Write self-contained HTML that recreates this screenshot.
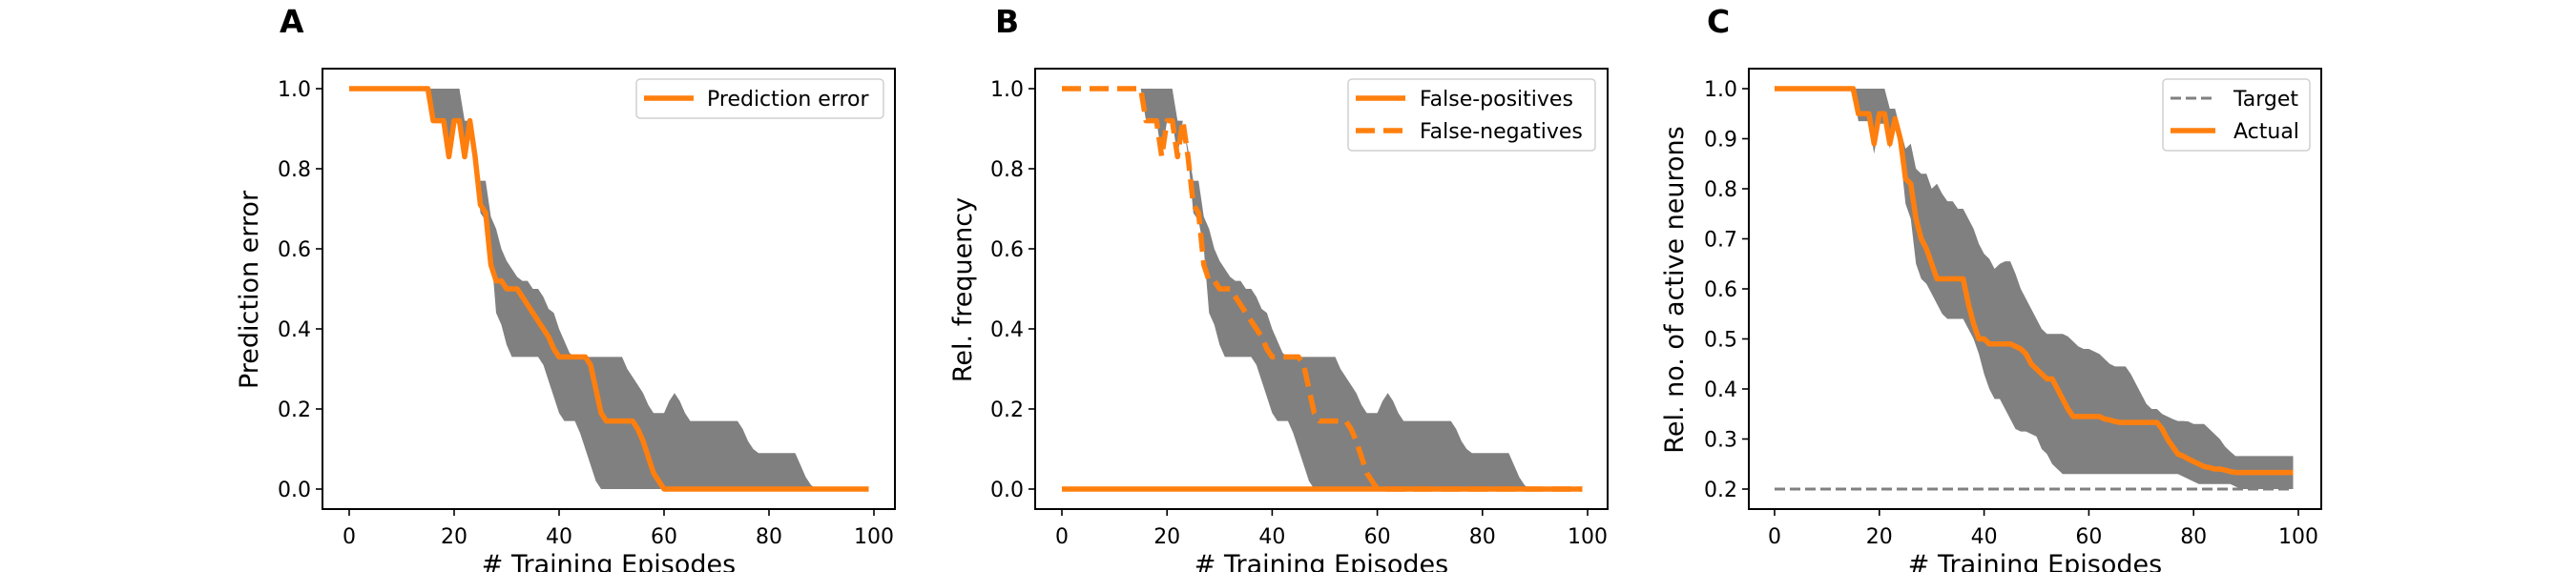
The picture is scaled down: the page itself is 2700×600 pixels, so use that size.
<!DOCTYPE html>
<html><head><meta charset="utf-8">
<style>
html,body{margin:0;padding:0;background:#fff;}
svg{display:block;}
text{font-family:"DejaVu Sans","Liberation Sans",sans-serif;fill:#000;}
</style></head>
<body>
<svg id="fig" width="2700" height="600" viewBox="0 0 2700 600" xmlns="http://www.w3.org/2000/svg"></svg>
<script>
const episodes = [0,1,2,3,4,5,6,7,8,9,10,11,12,13,14,15,16,17,18,19,20,21,22,23,24,25,26,27,28,29,30,31,32,33,34,35,36,37,38,39,40,41,42,43,44,45,46,47,48,49,50,51,52,53,54,55,56,57,58,59,60,61,62,63,64,65,66,67,68,69,70,71,72,73,74,75,76,77,78,79,80,81,82,83,84,85,86,87,88,89,90,91,92,93,94,95,96,97,98,99];
const errMean = [1,1,1,1,1,1,1,1,1,1,1,1,1,1,1,1,.92,.92,.92,.83,.92,.92,.83,.92,.83,.71,.69,.56,.52,.52,.5,.5,.5,.48,.46,.44,.42,.4,.38,.35,.33,.33,.33,.33,.33,.33,.31,.25,.19,.17,.17,.17,.17,.17,.17,.15,.12,.08,.04,.02,0,0,0,0,0,0,0,0,0,0,0,0,0,0,0,0,0,0,0,0,0,0,0,0,0,0,0,0,0,0,0,0,0,0,0,0,0,0,0,0];
const errUpper = [1,1,1,1,1,1,1,1,1,1,1,1,1,1,1,1,1,1,1,1,1,1,.92,.92,.85,.77,.77,.68,.65,.6,.57,.55,.53,.52,.52,.5,.5,.48,.45,.44,.4,.37,.34,.33,.33,.33,.33,.33,.33,.33,.33,.33,.33,.3,.28,.26,.24,.21,.19,.19,.19,.22,.24,.22,.19,.17,.17,.17,.17,.17,.17,.17,.17,.17,.17,.15,.12,.1,.09,.09,.09,.09,.09,.09,.09,.09,.06,.03,.01,0,0,0,0,0,0,0,0,0,0,0,0];
const errLower = [1,1,1,1,1,1,1,1,1,1,1,1,1,1,1,1,.92,.92,.92,.83,.92,.92,.83,.92,.83,.69,.67,.6,.44,.41,.36,.33,.33,.33,.33,.33,.33,.31,.27,.23,.19,.17,.17,.17,.14,.1,.06,.02,0,0,0,0,0,0,0,0,0,0,0,0,0,0,0,0,0,0,0,0,0,0,0,0,0,0,0,0,0,0,0,0,0,0,0,0,0,0,0,0,0,0,0,0,0,0,0,0,0,0,0,0];
const falsePos = [0,0,0,0,0,0,0,0,0,0,0,0,0,0,0,0,0,0,0,0,0,0,0,0,0,0,0,0,0,0,0,0,0,0,0,0,0,0,0,0,0,0,0,0,0,0,0,0,0,0,0,0,0,0,0,0,0,0,0,0,0,0,0,0,0,0,0,0,0,0,0,0,0,0,0,0,0,0,0,0,0,0,0,0,0,0,0,0,0,0,0,0,0,0,0,0,0,0,0,0];
const actMean = [1,1,1,1,1,1,1,1,1,1,1,1,1,1,1,1,.95,.95,.95,.89,.95,.95,.89,.94,.9,.82,.81,.74,.7,.68,.65,.62,.62,.62,.62,.62,.62,.57,.53,.5,.5,.49,.49,.49,.49,.49,.485,.48,.47,.45,.44,.43,.42,.42,.4,.38,.36,.345,.345,.345,.345,.345,.345,.34,.338,.335,.333,.333,.333,.333,.333,.333,.333,.333,.32,.3,.285,.27,.266,.26,.255,.25,.245,.243,.24,.24,.238,.235,.233,.233,.233,.233,.233,.233,.233,.233,.233,.233,.233,.233];
const actUpper = [1,1,1,1,1,1,1,1,1,1,1,1,1,1,1,1,1,1,1,1,1,1,.96,.96,.92,.88,.89,.84,.83,.83,.8,.81,.79,.775,.775,.76,.76,.74,.72,.69,.67,.66,.64,.65,.655,.655,.63,.6,.58,.56,.54,.52,.51,.51,.51,.51,.505,.495,.485,.48,.48,.475,.47,.46,.45,.445,.445,.445,.43,.41,.39,.37,.36,.36,.35,.345,.34,.336,.336,.335,.33,.33,.33,.32,.31,.3,.285,.275,.266,.266,.266,.266,.266,.266,.266,.266,.266,.266,.266,.266];
const actLower = [1,1,1,1,1,1,1,1,1,1,1,1,1,1,1,1,.935,.935,.935,.87,.93,.93,.88,.93,.87,.77,.74,.65,.62,.61,.59,.57,.55,.54,.54,.54,.54,.52,.5,.47,.43,.4,.38,.38,.36,.34,.32,.315,.315,.31,.305,.28,.27,.25,.24,.23,.23,.23,.23,.23,.23,.23,.23,.23,.23,.23,.23,.23,.23,.23,.23,.23,.23,.23,.23,.23,.23,.23,.225,.22,.215,.21,.21,.21,.21,.21,.21,.21,.205,.2,.2,.2,.2,.2,.2,.2,.2,.2,.2,.2];
const targetVal = 0.2;
const xTicks = [0,20,40,60,80,100];
const yTicksAB = [0,0.2,0.4,0.6,0.8,1.0];
const yTicksC = [0.2,0.3,0.4,0.5,0.6,0.7,0.8,0.9,1.0];

const NS = "http://www.w3.org/2000/svg";
const fig = document.getElementById('fig');
function mk(tag, attrs, parent){const e=document.createElementNS(NS,tag);for(const k in attrs)e.setAttribute(k,attrs[k]);(parent||fig).appendChild(e);return e;}
const ORANGE="#ff7f0e", GRAY="#808080";

function panel(cfg){
  const g = mk('g',{});
  
  
  const L=cfg.left,R=cfg.left+600,T=72,B=534;
  const xs=v=>cfg.x0+(v-0)*(cfg.x100-cfg.x0)/100;
  const ys=v=>93+(cfg.ytop-v)*cfg.ppu;
  // band
  let pts=[];
  for(let i=0;i<episodes.length;i++)pts.push(xs(episodes[i])+','+ys(cfg.upper[i]));
  for(let i=episodes.length-1;i>=0;i--)pts.push(xs(episodes[i])+','+ys(cfg.lower[i]));
  const band=mk('polygon',{points:pts.join(' '),fill:GRAY,stroke:'none'},g);
  
  
  // series
  cfg.series.forEach(s=>{
    const d=episodes.map((e,i)=>(i?'L':'M')+xs(e)+','+ys(s.vals[i])).join(' ');
    const p=mk('path',{d:d,fill:'none',stroke:s.color,'stroke-width':s.w,'stroke-linejoin':'round'},g);
    if(s.dash)p.setAttribute('stroke-dasharray',s.dash);
    
    
  });
  // frame
  const fr=mk('rect',{x:L,y:T,width:600,height:B-T,fill:'none',stroke:'#000','stroke-width':2},g);
  
  
  // x ticks
  xTicks.forEach(t=>{
    const x=xs(t);
    mk('line',{x1:x,y1:B,x2:x,y2:B+7,stroke:'#000','stroke-width':1.6},g);
    const tx=mk('text',{x:x,y:570,'text-anchor':'middle','font-size':22},g);
    tx.textContent=t;
    
    
  });
  cfg.yticks.forEach(t=>{
    const y=ys(t);
    mk('line',{x1:L,y1:y,x2:L-7,y2:y,stroke:'#000','stroke-width':1.6},g);
    const tx=mk('text',{x:L-12,y:y+8,'text-anchor':'end','font-size':22},g);
    tx.textContent=t.toFixed(1);
    
    
  });
  const xl=mk('text',{x:L+300,y:601,'text-anchor':'middle','font-size':27},g);
  xl.textContent='# Training Episodes';
  
  
  const yl=mk('text',{x:0,y:0,'text-anchor':'middle','font-size':27,transform:`translate(${cfg.ylx},304) rotate(-90)`},g);
  yl.textContent=cfg.ylabel;
  
  
  const lt=mk('text',{x:cfg.letterX,y:34,'font-size':33,'font-weight':'bold'},g);
  lt.textContent=cfg.letter;
  
  
  // legend
  const lg=mk('g',{},g);
  
  
  const lb=cfg.legend;
  mk('rect',{x:lb.x,y:83,width:lb.w,height:lb.items.length*34+7,rx:4,fill:'#fff','fill-opacity':0.8,stroke:'#d0d0d0','stroke-width':1.5},lg);
  lb.items.forEach((it,k)=>{
    const y=103+k*34;
    const ln=mk('line',{x1:lb.x+8,y1:y,x2:lb.x+8+lb.lw,y2:y,stroke:it.color,'stroke-width':it.w},lg);
    if(it.dash)ln.setAttribute('stroke-dasharray',it.dash);
    
    
    const t=mk('text',{x:lb.x+lb.tx,y:y+8,'font-size':22},lg);
    t.textContent=it.label;
    
    
  });
}

panel({name:'panel-a-prediction-error',left:338,x0:366,x100:916,ytop:1.0,ppu:420,yticks:yTicksAB,upper:errUpper,lower:errLower,
  series:[{vals:errMean,color:ORANGE,w:5.5,dname:'prediction-error-line'}],
  ylabel:'Prediction error',ylx:270,letter:'A',letterX:293,
  legend:{x:667,w:259,lw:52,tx:74,items:[{label:'Prediction error',color:ORANGE,w:5.5}]}});
panel({name:'panel-b-rel-frequency',left:1085,x0:1113,x100:1664,ytop:1.0,ppu:420,yticks:yTicksAB,upper:errUpper,lower:errLower,
  series:[{vals:falsePos,color:ORANGE,w:5.5,dname:'false-positives-line'},{vals:errMean,color:ORANGE,w:5.5,dash:'20 9',dname:'false-negatives-line'}],
  ylabel:'Rel. frequency',ylx:1018,letter:'B',letterX:1043,
  legend:{x:1413,w:259,lw:52,tx:75,items:[{label:'False-positives',color:ORANGE,w:5.5},{label:'False-negatives',color:ORANGE,w:5.5,dash:'20 9'}]}});
panel({name:'panel-c-active-neurons',left:1833,x0:1860,x100:2409,ytop:1.0,ppu:525,yticks:yTicksC,upper:actUpper,lower:actLower,
  series:[{vals:episodes.map(()=>targetVal),color:GRAY,w:3,dash:'11 5',dname:'target-line'},{vals:actMean,color:ORANGE,w:5.5,dname:'actual-line'}],
  ylabel:'Rel. no. of active neurons',ylx:1764,letter:'C',letterX:1789,
  legend:{x:2267,w:154,lw:47,tx:74,items:[{label:'Target',color:GRAY,w:3,dash:'11 5'},{label:'Actual',color:ORANGE,w:5.5}]}});
</script>
</body></html>
